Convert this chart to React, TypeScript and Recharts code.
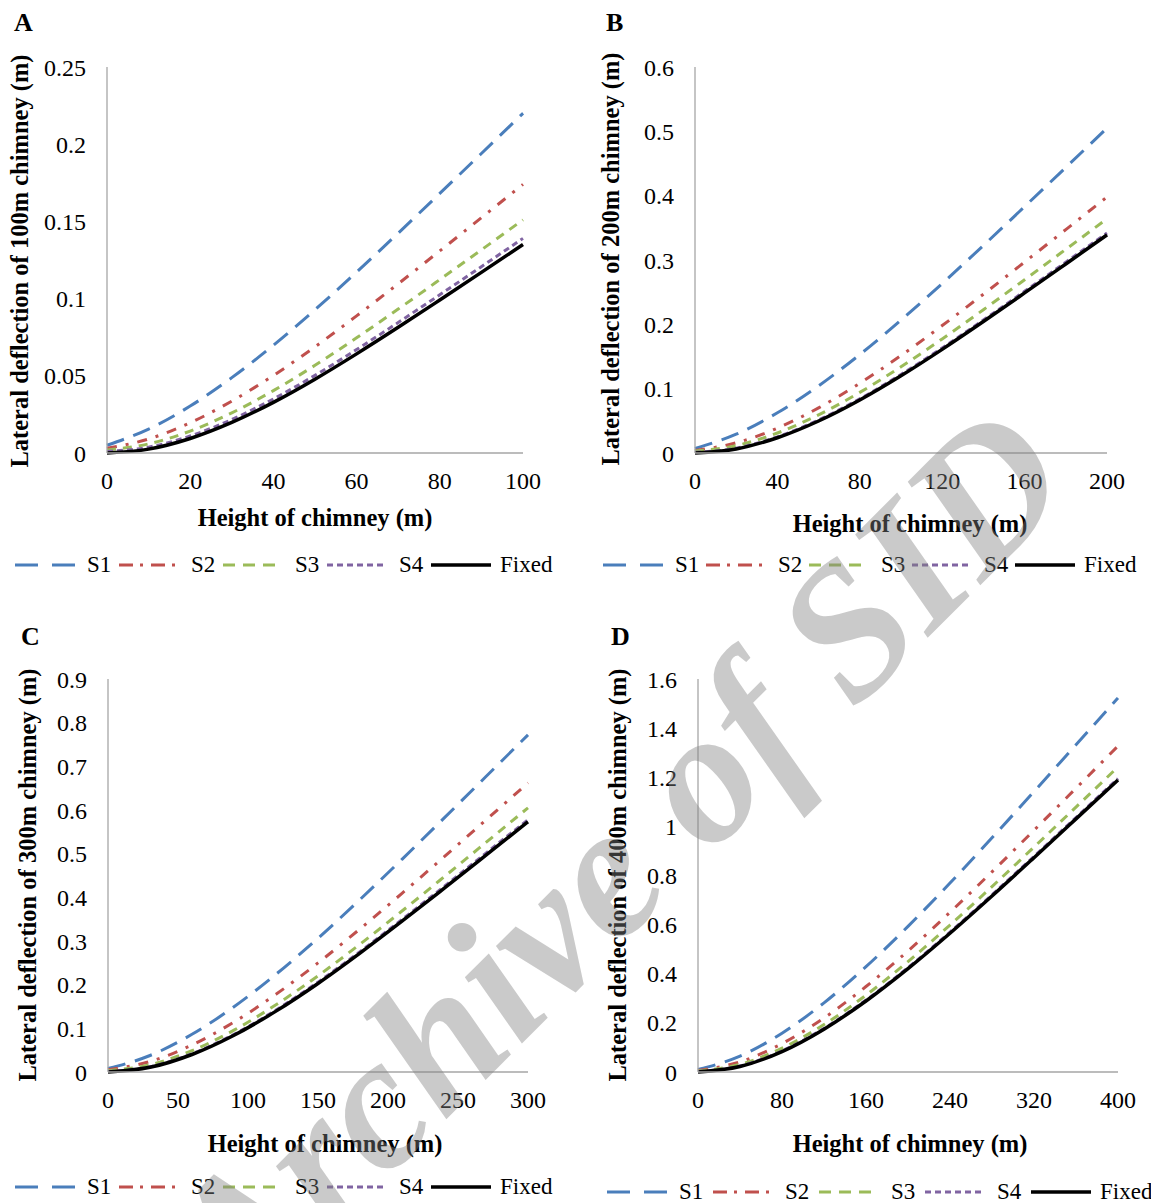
import React from 'react';
import { LineChart, Line, XAxis, YAxis } from 'recharts';

const FONT = '"Liberation Serif", "Times New Roman", Times, serif';

// A: 100 m chimney
const heightA = [0, 10, 20, 30, 40, 50, 60, 70, 80, 90, 100];
const s1A = [0.005, 0.0155, 0.0304, 0.0488, 0.0698, 0.0928, 0.1172, 0.1424, 0.1681, 0.194, 0.22];
const s2A = [0.003, 0.0091, 0.0196, 0.0336, 0.0502, 0.0688, 0.0888, 0.1096, 0.1309, 0.1524, 0.174];
const s3A = [0.002, 0.0059, 0.0142, 0.026, 0.0404, 0.0568, 0.0746, 0.0932, 0.1123, 0.1316, 0.151];
const s4A = [0.001, 0.0038, 0.011, 0.0217, 0.035, 0.0503, 0.067, 0.0845, 0.1025, 0.1207, 0.139];
const fixedA = [0, 0.0025, 0.0094, 0.0198, 0.0328, 0.0478, 0.0642, 0.0814, 0.0991, 0.117, 0.135];
const xTicksA = [0, 20, 40, 60, 80, 100];
const yTicksA = [0, 0.05, 0.1, 0.15, 0.2, 0.25];

// B: 200 m chimney
const heightB = [0, 20, 40, 60, 80, 100, 120, 140, 160, 180, 200];
const s1B = [0.007, 0.0292, 0.0625, 0.1044, 0.153, 0.2065, 0.2635, 0.3226, 0.383, 0.4439, 0.505];
const s2B = [0.004, 0.0158, 0.0387, 0.0702, 0.1084, 0.1515, 0.1981, 0.2468, 0.2968, 0.3473, 0.398];
const s3B = [0.003, 0.0115, 0.0311, 0.0593, 0.0942, 0.134, 0.1773, 0.2227, 0.2694, 0.3166, 0.364];
const s4B = [0.001, 0.0075, 0.0251, 0.0513, 0.0842, 0.122, 0.1633, 0.2067, 0.2514, 0.2966, 0.342];
const fixedB = [0, 0.0063, 0.0237, 0.0497, 0.0824, 0.12, 0.1611, 0.2043, 0.2488, 0.2938, 0.339];
const xTicksB = [0, 40, 80, 120, 160, 200];
const yTicksB = [0, 0.1, 0.2, 0.3, 0.4, 0.5, 0.6];

// C: 300 m chimney
const heightC = [0, 30, 60, 90, 120, 150, 180, 210, 240, 270, 300];
const s1C = [0.008, 0.0378, 0.0863, 0.1494, 0.2238, 0.3063, 0.3949, 0.4871, 0.5814, 0.6766, 0.772];
const s2C = [0.005, 0.0241, 0.0619, 0.1143, 0.178, 0.2498, 0.3277, 0.4091, 0.4927, 0.5772, 0.662];
const s3C = [0.003, 0.0166, 0.0489, 0.0958, 0.154, 0.2203, 0.2927, 0.3686, 0.4467, 0.5257, 0.605];
const s4C = [0.001, 0.0121, 0.0419, 0.0863, 0.142, 0.2058, 0.2757, 0.3491, 0.4247, 0.5012, 0.578];
const fixedC = [0, 0.0107, 0.0401, 0.0841, 0.1394, 0.2028, 0.2723, 0.3453, 0.4205, 0.4966, 0.573];
const xTicksC = [0, 50, 100, 150, 200, 250, 300];
const yTicksC = [0, 0.1, 0.2, 0.3, 0.4, 0.5, 0.6, 0.7, 0.8, 0.9];

// D: 400 m chimney
const heightD = [0, 40, 80, 120, 160, 200, 240, 280, 320, 360, 400];
const s1D = [0.01, 0.0646, 0.1579, 0.2816, 0.4288, 0.5929, 0.7694, 0.9534, 1.1418, 1.3321, 1.523];
const s2D = [0.006, 0.0414, 0.1155, 0.22, 0.348, 0.4929, 0.6502, 0.815, 0.9842, 1.1553, 1.327];
const s3D = [0.004, 0.0311, 0.0969, 0.1931, 0.3128, 0.4494, 0.5984, 0.7549, 0.9158, 1.0786, 1.242];
const s4D = [0.002, 0.0246, 0.0859, 0.1776, 0.2928, 0.4249, 0.5694, 0.7214, 0.8778, 1.0361, 1.195];
const fixedD = [0, 0.0222, 0.0831, 0.1744, 0.2892, 0.4209, 0.565, 0.7166, 0.8726, 1.0305, 1.189];
const xTicksD = [0, 80, 160, 240, 320, 400];
const yTicksD = [0, 0.2, 0.4, 0.6, 0.8, 1, 1.2, 1.4, 1.6];

const series = [
  { key: 's1', name: 'S1', color: '#4a7ebb', dash: '18 10', legendDash: '23 14', width: 3 },
  { key: 's2', name: 'S2', color: '#c0504d', dash: '10 9 3 9', legendDash: '14 7 3 8', width: 3 },
  { key: 's3', name: 'S3', color: '#9bbb59', dash: '9 7', legendDash: '12 8', width: 3 },
  { key: 's4', name: 'S4', color: '#8064a2', dash: '6 4', legendDash: '6 4', width: 3 },
  { key: 'fixed', name: 'Fixed', color: '#000000', dash: undefined, legendDash: undefined, width: 3.5 },
];

const rows = (h: number[], a: number[], b: number[], c: number[], d: number[], f: number[]) =>
  h.map((x, i) => ({ h: x, s1: a[i], s2: b[i], s3: c[i], s4: d[i], fixed: f[i] }));

const panels = [
  {
    letter: 'A', left: 0, top: 0, yW: 107, right: 37, xMax: 100, yMax: 0.25,
    xTicks: xTicksA, yTicks: yTicksA, data: rows(heightA, s1A, s2A, s3A, s4A, fixedA),
    yTitle: 'Lateral deflection of 100m chimney (m)', yTitleX: 20, yTitleY: 261,
    xTitleX: 315, xTitleY: 518, legX: 15, legY: 565, legStep: 104, letterX: 14, letterY: 8,
  },
  {
    letter: 'B', left: 590, top: 0, yW: 105, right: 43, xMax: 200, yMax: 0.6,
    xTicks: xTicksB, yTicks: yTicksB, data: rows(heightB, s1B, s2B, s3B, s4B, fixedB),
    yTitle: 'Lateral deflection of 200m chimney (m)', yTitleX: 611, yTitleY: 259,
    xTitleX: 910, xTitleY: 524, legX: 603, legY: 565, legStep: 103, letterX: 606, letterY: 8,
  },
  {
    letter: 'C', left: 0, top: 612, yW: 108, right: 32, xMax: 300, yMax: 0.9,
    xTicks: xTicksC, yTicks: yTicksC, data: rows(heightC, s1C, s2C, s3C, s4C, fixedC),
    yTitle: 'Lateral deflection of 300m chimney (m)', yTitleX: 28, yTitleY: 875,
    xTitleX: 325, xTitleY: 1144, legX: 15, legY: 1187, legStep: 104, letterX: 21, letterY: 622,
  },
  {
    letter: 'D', left: 590, top: 612, yW: 108, right: 32, xMax: 400, yMax: 1.6,
    xTicks: xTicksD, yTicks: yTicksD, data: rows(heightD, s1D, s2D, s3D, s4D, fixedD),
    yTitle: 'Lateral deflection of 400m chimney (m)', yTitleX: 618, yTitleY: 875,
    xTitleX: 910, xTitleY: 1144, legX: 607, legY: 1192, legStep: 106, letterX: 611, letterY: 622,
  },
];

const tickStyle = { fontFamily: FONT, fontSize: 24, fill: '#000' };

const Legend = ({ x, y, step }: any) => (
  <div style={{ position: 'absolute', left: x, top: y - 13, display: 'flex', alignItems: 'center', height: 26 }}>
    {series.map((s) => (
      <div key={s.key} style={{ display: 'flex', alignItems: 'center', width: s.key === 'fixed' ? 130 : step, flexShrink: 0 }}>
        <svg width={62} height={10} style={{ display: 'block' }}>
          <line x1={0} y1={5} x2={60} y2={5} stroke={s.color} strokeWidth={s.width} strokeDasharray={s.legendDash} />
        </svg>
        <span style={{ marginLeft: s.key === 'fixed' ? 7 : 10, fontFamily: FONT, fontSize: 23, color: '#000' }}>{s.name}</span>
      </div>
    ))}
  </div>
);

const Panel = ({ p }: any) => (
  <>
    <div style={{ position: 'absolute', left: p.left, top: p.top }}>
      <LineChart
        width={560}
        height={p.top ? 1072 - 612 + 45 : 453 + 45}
        data={p.data}
        margin={{ top: 67, right: p.right, left: 0, bottom: 0 }}
      >
        <XAxis
          dataKey="h"
          type="number"
          domain={[0, p.xMax]}
          ticks={p.xTicks}
          height={45}
          tickLine={false}
          tickSize={6}
          tickMargin={13}
          tick={tickStyle}
          axisLine={{ stroke: '#a6a6a6', strokeWidth: 1.3 }}
          interval={0}
        />
        <YAxis
          type="number"
          domain={[0, p.yMax]}
          ticks={p.yTicks}
          width={p.yW}
          tickLine={false}
          tickSize={6}
          tickMargin={15}
          tick={tickStyle}
          axisLine={{ stroke: '#a6a6a6', strokeWidth: 1.3 }}
          interval={0}
        />
        {series.map((s) => (
          <Line
            key={s.key}
            type="monotone"
            dataKey={s.key}
            name={s.name}
            stroke={s.color}
            strokeWidth={s.width}
            strokeDasharray={s.dash}
            dot={false}
            activeDot={false}
            isAnimationActive={false}
          />
        ))}
      </LineChart>
    </div>
    <div style={{ position: 'absolute', left: p.letterX, top: p.letterY, fontFamily: FONT, fontWeight: 'bold', fontSize: 26 }}>
      {p.letter}
    </div>
    <div
      style={{
        position: 'absolute', left: p.yTitleX, top: p.yTitleY, transform: 'translate(-50%, -50%) rotate(-90deg)',
        whiteSpace: 'nowrap', fontFamily: FONT, fontWeight: 'bold', fontSize: 24.5,
      }}
    >
      {p.yTitle}
    </div>
    <div
      style={{
        position: 'absolute', left: p.xTitleX, top: p.xTitleY, transform: 'translate(-50%, -50%)',
        whiteSpace: 'nowrap', fontFamily: FONT, fontWeight: 'bold', fontSize: 24.5,
      }}
    >
      Height of chimney (m)
    </div>
    <Legend x={p.legX} y={p.legY} step={p.legStep} />
  </>
);

export default function App() {
  return (
    <div style={{ position: 'absolute', left: 0, top: 0, width: 1151, height: 1203, background: '#fff', overflow: 'hidden' }}>
      {panels.map((p) => (
        <Panel key={p.letter} p={p} />
      ))}
      <div
        style={{
          position: 'absolute', left: 615, top: 860, transform: 'translate(-50%, -50%) rotate(-45deg)',
          whiteSpace: 'nowrap', fontFamily: FONT, fontWeight: 'bold', fontStyle: 'italic', fontSize: 190,
          color: 'rgba(128,128,128,0.42)', pointerEvents: 'none',
        }}
      >
        Archive of SID
      </div>
    </div>
  );
}
